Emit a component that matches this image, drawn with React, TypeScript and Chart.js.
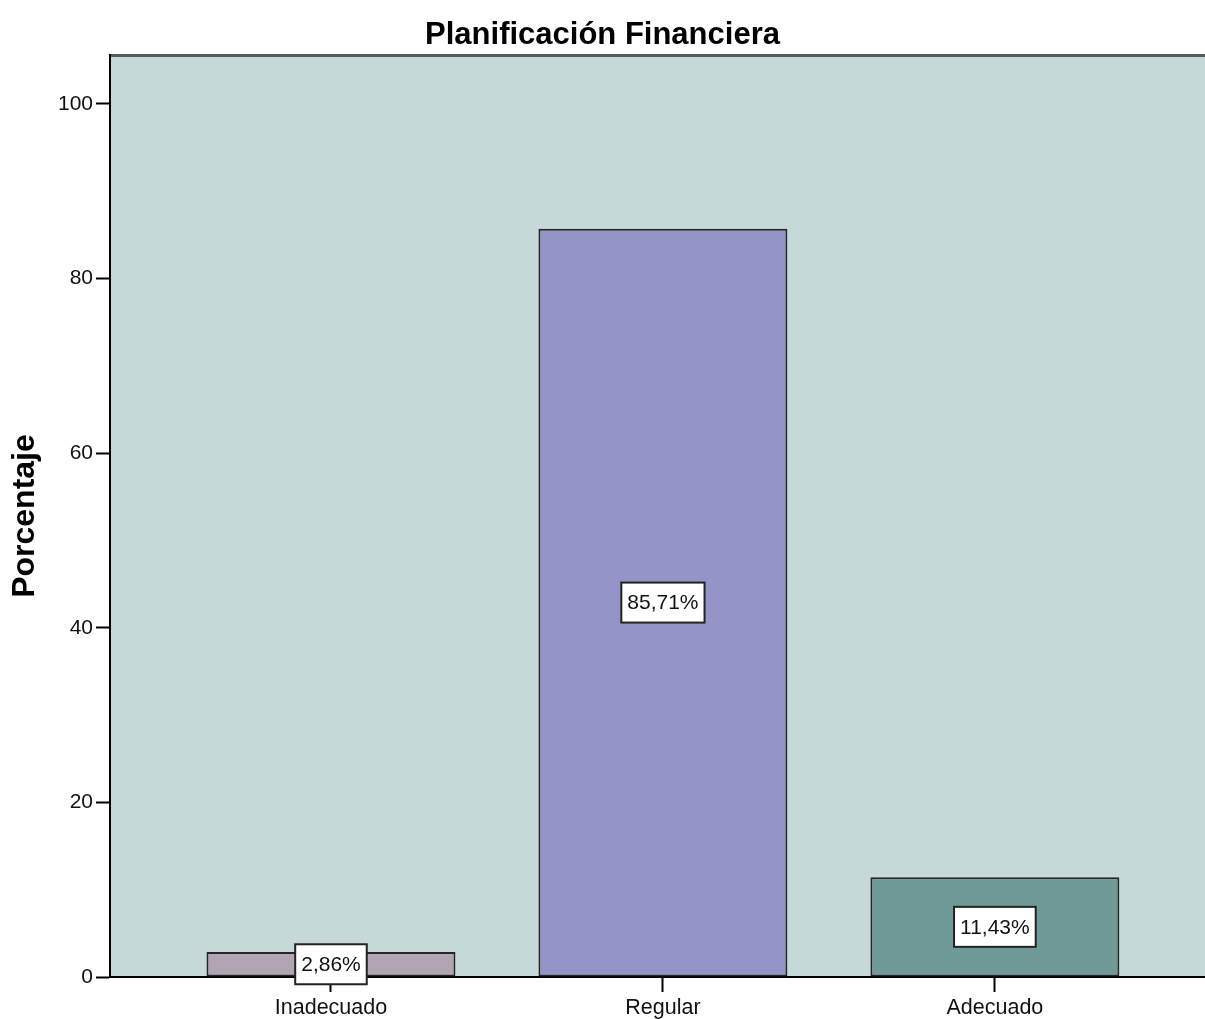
import React, { useEffect, useRef } from "react";
import { Chart, registerables } from "chart.js";

Chart.register(...registerables);

const chartTitle = "Planificación Financiera";
const yAxisTitle = "Porcentaje";
const categories = ["Inadecuado", "Regular", "Adecuado"];
const percentages = [2.86, 85.71, 11.43];
const barColors = ["#B3A4B4", "#9494C8", "#709A98"];
const yTicks = [0, 20, 40, 60, 80, 100];

const FONT = "'Liberation Sans', Arial, sans-serif";
const PLOT_BG = "#C6D8D7";

const fmt = (v: number) => v.toFixed(2).replace(".", ",") + "%";

const plotBackground = {
  id: "plotBackground",
  beforeDraw(chart: any) {
    const { ctx, chartArea } = chart;
    ctx.save();
    ctx.fillStyle = PLOT_BG;
    ctx.fillRect(chartArea.left, chartArea.top, chartArea.right - chartArea.left, chartArea.bottom - chartArea.top);
    ctx.strokeStyle = "#5a5a5a";
    ctx.lineWidth = 3;
    ctx.beginPath();
    ctx.moveTo(chartArea.left, chartArea.top + 0.5);
    ctx.lineTo(chartArea.right, chartArea.top + 0.5);
    ctx.stroke();
    ctx.restore();
  },
};

const boxLabels = {
  id: "boxLabels",
  afterDatasetsDraw(chart: any) {
    const { ctx } = chart;
    const meta = chart.getDatasetMeta(0);
    ctx.save();
    ctx.font = `21px ${FONT}`;
    ctx.textAlign = "center";
    ctx.textBaseline = "middle";
    meta.data.forEach((bar: any, i: number) => {
      const text = fmt(percentages[i]);
      const cx = bar.x;
      const cy = (bar.y + bar.base) / 2;
      const w = ctx.measureText(text).width + 12;
      const h = 40;
      ctx.fillStyle = "#ffffff";
      ctx.fillRect(cx - w / 2, cy - h / 2, w, h);
      ctx.strokeStyle = "#222222";
      ctx.lineWidth = 2;
      ctx.strokeRect(cx - w / 2, cy - h / 2, w, h);
      ctx.fillStyle = "#111111";
      ctx.fillText(text, cx, cy + 1);
    });
    ctx.restore();
  },
};

export default function App() {
  const ref = useRef<HTMLCanvasElement | null>(null);

  useEffect(() => {
    document.body.style.margin = "0";
    document.body.style.overflow = "hidden";
    if (!ref.current) return;
    const chart = new Chart(ref.current, {
      type: "bar",
      data: {
        datasets: [
          {
            data: percentages.map((v, i) => ({ x: i, y: v })),
            backgroundColor: barColors,
            borderColor: "#262626",
            borderWidth: 2,
            borderSkipped: false,
            barPercentage: 0.75,
            categoryPercentage: 1,
          },
        ],
      },
      options: {
        animation: false,
        responsive: true,
        maintainAspectRatio: false,
        layout: { padding: 0 },
        plugins: {
          legend: { display: false },
          tooltip: { enabled: false },
          title: {
            display: true,
            text: chartTitle,
            color: "#000",
            font: { family: FONT, size: 31, weight: "bold" },
            padding: { top: 17, bottom: 0.8 },
          },
        },
        scales: {
          x: {
            type: "linear",
            offset: false,
            min: -0.6657,
            max: 2.633,
            afterFit(scale: any) {
              scale.height = 42;
            },
            afterBuildTicks(scale: any) {
              scale.ticks = [0, 1, 2].map((v) => ({ value: v }));
            },
            grid: {
              offset: false,
              drawOnChartArea: false,
              drawTicks: true,
              tickLength: 15,
              tickWidth: 2,
              tickColor: "#000",
            },
            border: { display: true, color: "#000", width: 2 },
            ticks: {
              color: "#111",
              font: { family: FONT, size: 21.5 },
              padding: 3,
              maxRotation: 0,
              callback: (v: any) => categories[v as number] ?? "",
            },
          },
          y: {
            type: "linear",
            min: 0,
            max: 105.6,
            afterFit(scale: any) {
              scale.width = 110;
            },
            afterBuildTicks(scale: any) {
              scale.ticks = yTicks.map((v) => ({ value: v }));
            },
            grid: {
              drawOnChartArea: false,
              drawTicks: true,
              tickLength: 14,
              tickWidth: 2,
              tickColor: "#000",
            },
            border: { display: true, color: "#000", width: 2 },
            ticks: {
              color: "#111",
              font: { family: FONT, size: 21 },
              padding: 3,
            },
            title: {
              display: true,
              text: yAxisTitle,
              color: "#000",
              font: { family: FONT, size: 32, weight: "bold" },
              padding: { top: 6, bottom: 0 },
            },
          },
        },
      },
      plugins: [plotBackground, boxLabels],
    });
    return () => chart.destroy();
  }, []);

  return (
    <div style={{ width: "1205px", height: "1019px", position: "relative" }}>
      <canvas ref={ref} />
    </div>
  );
}
